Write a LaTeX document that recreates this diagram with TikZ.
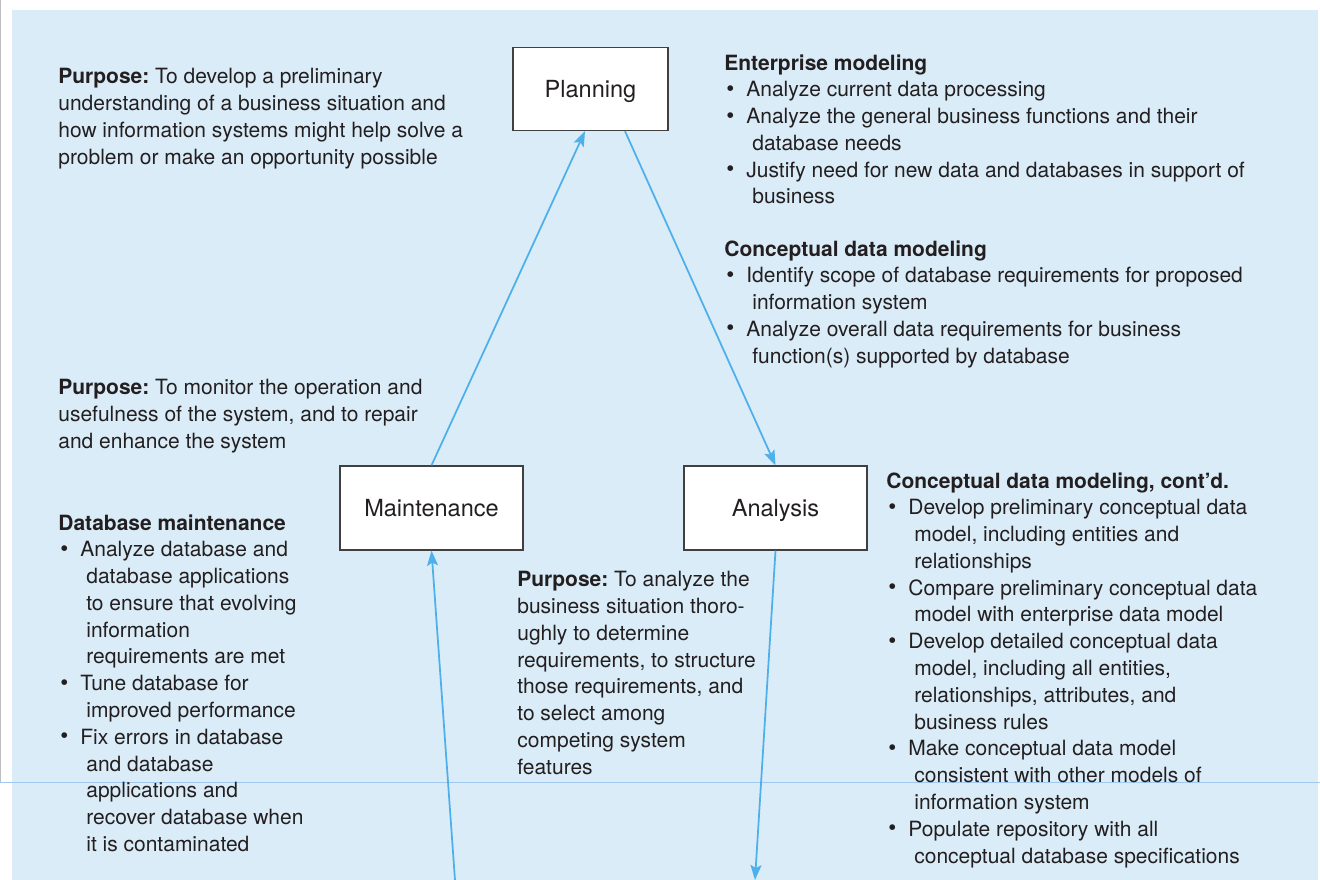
\documentclass[tikz,border=0pt]{standalone}
\usepackage{fontspec}
\setmainfont{TeX Gyre Heros}
\usepackage{tikz}
\usetikzlibrary{arrows.meta, positioning}
\definecolor{bgblue}{RGB}{218,236,248}
\definecolor{arrowblue}{RGB}{77,176,234}
\definecolor{ruleblue}{RGB}{160,200,240}
\definecolor{inkgray}{RGB}{35,31,32}
\frenchspacing
\newcommand{\bul}{\makebox[0.44cm][l]{\hspace{0.04cm}\raisebox{0.02em}{\fontsize{13}{13}\selectfont\textbullet}}}
\newcommand{\cont}{\hspace*{0.56cm}}
\tikzset{
  phase/.style={draw=black!75, fill=white, line width=0.75pt, minimum height=1.68cm,
    text height=0.97em, text depth=0pt, font=\fontsize{13.4}{16}\selectfont, text=inkgray},
  block/.style={anchor=north west, inner sep=0pt, align=left, text=inkgray,
    font=\fontsize{11.95}{15.25}\selectfont},
  flow/.style={draw=arrowblue, line width=1pt, -{Stealth[length=0.3cm, width=0.22cm, inset=0.06cm]}}
}

\begin{document}
\begin{tikzpicture}[x=0.02cm, y=-0.02cm]
            \useasboundingbox (0,0) rectangle (1320,880);
            \fill[bgblue] (12,10) rectangle (1318,880);
            \draw[black!25, line width=0.4pt] (0.5,0) -- (0.5,782);
            \draw[ruleblue, line width=0.5pt] (0,782) -- (1320,782);

            \node[phase, minimum width=3.1cm, minimum height=1.66cm] (plan) at (590.5,89) {Planning};
            \node[phase, minimum width=3.66cm] (maint) at (431.5,508) {Maintenance};
            \node[phase, minimum width=3.66cm] (ana) at (775.5,508) {Analysis};

            \coordinate (maintin) at (455,880);
            \coordinate (anaout) at (755,880);

            \draw[flow] (maint.north) -- ([xshift=-0.11cm]plan.south);
            \draw[flow] ([xshift=0.69cm]plan.south) -- (ana.north);
            \draw[flow] (ana.south) -- (anaout);
            \draw[flow] (maintin) -- (maint.south);

            \node[block] (purplan) at (58,68) {\textbf{Purpose:} To develop a preliminary\\
              understanding of a business situation and\\
              how information systems might help solve a\\
              problem or make an opportunity possible};
            \node[block] (enterprise) at (724,54) {\textbf{Enterprise modeling}\\
              \bul Analyze current data processing\\
              \bul Analyze the general business functions and their\\
              \cont database needs\\
              \bul Justify need for new data and databases in support of\\
              \cont business};
            \node[block] (concept) at (724,240) {\textbf{Conceptual data modeling}\\
              \bul Identify scope of database requirements for proposed\\
              \cont information system\\
              \bul Analyze overall data requirements for business\\
              \cont function(s) supported by database};
            \node[block] (purmaint) at (58,379) {\textbf{Purpose:} To monitor the operation and\\
              usefulness of the system, and to repair\\
              and enhance the system};
            \node[block] (dbmaint) at (58,514) {\textbf{Database maintenance}\\
              \bul Analyze database and\\
              \cont database applications\\
              \cont to ensure that evolving\\
              \cont information\\
              \cont requirements are met\\
              \bul Tune database for\\
              \cont improved performance\\
              \bul Fix errors in database\\
              \cont and database\\
              \cont applications and\\
              \cont recover database when\\
              \cont it is contaminated};
            \node[block] (purana) at (517,571) {\textbf{Purpose:} To analyze the\\
              business situation thoro-\\
              ughly to determine\\
              requirements, to structure\\
              those requirements, and\\
              to select among\\
              competing system\\
              features};
            \node[block] (contd) at (886,472) {\textbf{Conceptual data modeling, cont’d.}\\
              \bul Develop preliminary conceptual data\\
              \cont model, including entities and\\
              \cont relationships\\
              \bul Compare preliminary conceptual data\\
              \cont model with enterprise data model\\
              \bul Develop detailed conceptual data\\
              \cont model, including all entities,\\
              \cont relationships, attributes, and\\
              \cont business rules\\
              \bul Make conceptual data model\\
              \cont consistent with other models of\\
              \cont information system\\
              \bul Populate repository with all\\
              \cont conceptual database specifications};
        \end{tikzpicture}
\end{document}
